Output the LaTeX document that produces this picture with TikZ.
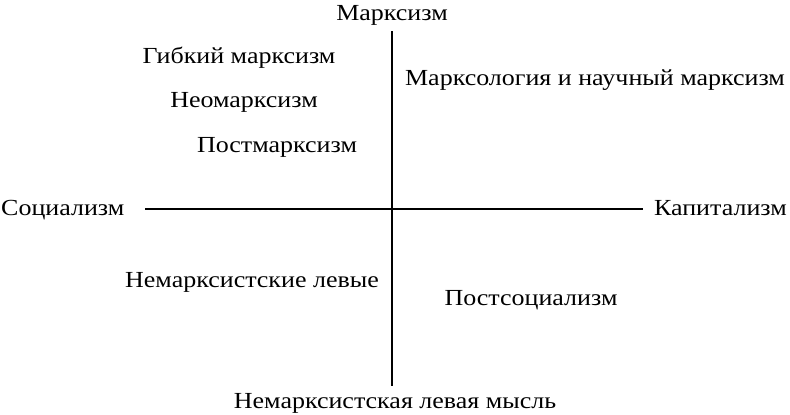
\documentclass[tikz,border=0pt]{standalone}
\usepackage{fontspec}
\setmainfont[FakeStretch=1.13]{Liberation Serif}
\usetikzlibrary{calc}

\begin{document}
\begin{tikzpicture}[x=1pt,y=-1pt,
	lbl/.style={inner sep=0pt,font=\fontsize{23}{26}\selectfont}]
		\useasboundingbox (0,0) rectangle (790,415);
		\def\cx{392}
		\def\cy{209}
		\path
		(\cx,\cy) coordinate (O)
		(\cx,31) coordinate (T)
		(\cx,386) coordinate (B)
		(145,\cy) coordinate (L)
		(643,\cy) coordinate (R);
		\draw[line width=2.2pt] (T)--(B) (L)--(R);
		\node[lbl,anchor=base] (marx) at (\cx,20) {Марксизм};
		\node[lbl,anchor=base] (nonmarx) at (395,408) {Немарксистская левая мысль};
		\node[lbl,anchor=base west] (soc) at (1,215) {Социализм};
		\node[lbl,anchor=base east] (cap) at (787,215) {Капитализм};
		\foreach \n/\x/\y/\t in {flex/239/63/Гибкий марксизм,neo/244/107/Неомарксизм,post/277/152/Постмарксизм,
			mlog/595/85/Марксология и научный марксизм,left/252/287/Немарксистские левые,psoc/531/305/Постсоциализм}
		\node[lbl,anchor=base] (\n) at (\x,\y) {\t};
	\end{tikzpicture}
\end{document}
